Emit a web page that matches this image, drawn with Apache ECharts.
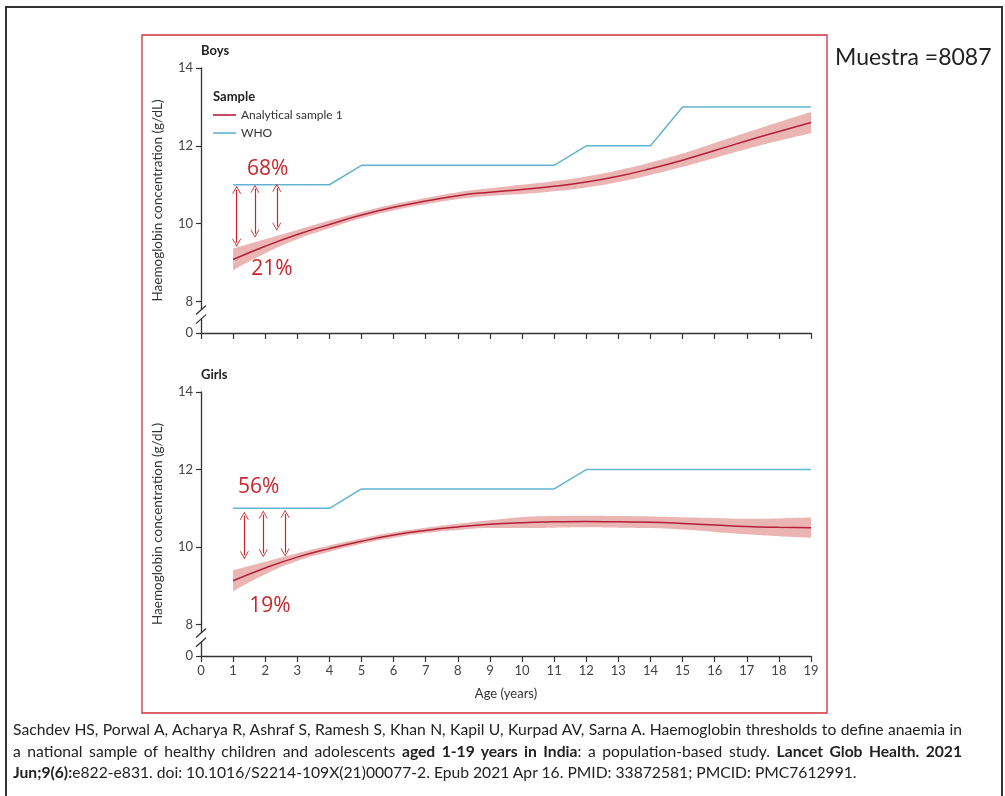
<!DOCTYPE html>
<html>
<head>
<meta charset="utf-8">
<script src="https://cdn.jsdelivr.net/npm/echarts@6/dist/echarts.min.js"></script>
<style>
  html, body { margin: 0; padding: 0; background: #fff; }
  #chart { position: absolute; left: 0; top: 0; width: 1005px; height: 796px; }
  #cite { position: absolute; left: 13px; top: 719px; width: 949px; font-family: Lato, "Open Sans", sans-serif; font-size: 14px; line-height: 21.5px; color: #222; }
  #cite .j { display: block; text-align: justify; text-align-last: justify; white-space: nowrap; }
  #cite .l { display: block; white-space: nowrap; }
</style>
</head>
<body>
<div id="chart"></div>
<div id="cite">
  <span class="j" id="line1">Sachdev HS, Porwal A, Acharya R, Ashraf S, Ramesh S, Khan N, Kapil U, Kurpad AV, Sarna A. Haemoglobin thresholds to define anaemia in</span>
  <span class="j">a national sample of healthy children and adolescents <b>aged 1-19 years in India</b>: a population-based study. <b>Lancet Glob Health. 2021</b></span>
  <span class="l"><b>Jun;9(6):</b>e822-e831. doi: 10.1016/S2214-109X(21)00077-2. Epub 2021 Apr 16. PMID: 33872581; PMCID: PMC7612991.</span>
</div>
<script>
// ---------------- data ----------------
const ages = [1, 2, 3, 4, 5, 6, 7, 8, 9, 10, 11, 12, 13, 14, 15, 16, 17, 18, 19];

const boysMean  = [9.08, 9.42, 9.72, 9.98, 10.22, 10.42, 10.58, 10.72, 10.81, 10.88, 10.96, 11.07, 11.22, 11.41, 11.63, 11.88, 12.13, 12.37, 12.60];
const boysLower = [8.80, 9.24, 9.60, 9.88, 10.14, 10.34, 10.50, 10.63, 10.71, 10.76, 10.83, 10.93, 11.07, 11.25, 11.46, 11.69, 11.92, 12.13, 12.33];
const boysUpper = [9.36, 9.60, 9.84, 10.08, 10.30, 10.50, 10.66, 10.81, 10.91, 11.00, 11.09, 11.21, 11.37, 11.57, 11.80, 12.07, 12.34, 12.61, 12.87];
const boysWHO   = [11, 11, 11, 11, 11.5, 11.5, 11.5, 11.5, 11.5, 11.5, 11.5, 12, 12, 12, 13, 13, 13, 13, 13];

const girlsMean  = [9.13, 9.46, 9.74, 9.96, 10.15, 10.31, 10.43, 10.52, 10.59, 10.63, 10.65, 10.66, 10.65, 10.64, 10.61, 10.57, 10.53, 10.51, 10.50];
const girlsLower = [8.86, 9.30, 9.64, 9.88, 10.08, 10.24, 10.36, 10.44, 10.49, 10.49, 10.50, 10.51, 10.50, 10.49, 10.45, 10.39, 10.33, 10.28, 10.24];
const girlsUpper = [9.40, 9.62, 9.84, 10.04, 10.22, 10.38, 10.50, 10.60, 10.69, 10.77, 10.80, 10.81, 10.80, 10.79, 10.77, 10.75, 10.73, 10.74, 10.76];
const girlsWHO   = [11, 11, 11, 11, 11.5, 11.5, 11.5, 11.5, 11.5, 11.5, 11.5, 12, 12, 12, 12, 12, 12, 12, 12];

const yTickValues = [8, 10, 12, 14];
const yBreakLabel = '0';
const xTickLabels = ['0','1','2','3','4','5','6','7','8','9','10','11','12','13','14','15','16','17','18','19'];

const boysPercentLabels  = ['68%', '21%'];
const girlsPercentLabels = ['56%', '19%'];

// ---------------- styling / layout ----------------
const Y_MIN = 7.19;   // axis bottom, shown as "0" after the break
const FONT = 'Lato, "Open Sans", sans-serif';
const RED = '#b3203a';
const BLUE = '#62b4d2';
const BAND = '#eab5b2';
const ANN = '#c8262c';
const AXIS = '#333';
const chevron = 'path://M0,10 L5,0 L10,10 L9,10 L5,2 L1,10 Z';

const pairs = (xs, ys) => xs.map((x, i) => [x, ys[i]]);

// annotation placements (data coords)
const boysTextPos  = [[2.08, 11.41], [2.21, 8.84]];
const girlsTextPos = [[1.80, 11.55], [2.15, 8.49]];
const boysArrows  = [[1.11, 10.87, 9.51], [1.68, 10.90, 9.74], [2.36, 10.92, 9.92]];
const girlsArrows = [[1.35, 10.81, 9.79], [1.94, 10.84, 9.84], [2.62, 10.86, 9.86]];

function panelSeries(idx, mean, lower, upper, who, textLabels, textPos, arrows) {
  return [
    {
      name: 'bandUpper' + idx, type: 'line', xAxisIndex: idx, yAxisIndex: idx,
      data: pairs(ages, upper), smooth: true, symbol: 'none',
      lineStyle: { opacity: 0 }, areaStyle: { color: BAND, opacity: 1, origin: 'start' }, silent: true, z: 1
    },
    {
      name: 'bandLower' + idx, type: 'line', xAxisIndex: idx, yAxisIndex: idx,
      data: pairs(ages, lower), smooth: true, symbol: 'none',
      lineStyle: { opacity: 0 }, areaStyle: { color: '#ffffff', opacity: 1, origin: 'start' }, silent: true, z: 2
    },
    {
      name: 'WHO', type: 'line', xAxisIndex: idx, yAxisIndex: idx,
      data: pairs(ages, who), symbol: 'none', smooth: false,
      lineStyle: { color: BLUE, width: 1.5 }, itemStyle: { color: BLUE }, z: 3
    },
    {
      name: 'Analytical sample 1', type: 'line', xAxisIndex: idx, yAxisIndex: idx,
      data: pairs(ages, mean), symbol: 'none', smooth: true,
      lineStyle: { color: RED, width: 1.5 }, itemStyle: { color: RED }, z: 4,
      markPoint: {
        silent: true, symbol: 'circle', symbolSize: 0,
        label: { show: true, position: 'inside', formatter: '{b}', color: ANN, fontSize: 21, fontFamily: '"Open Sans", sans-serif' },
        data: textLabels.map((t, i) => ({ name: t, coord: textPos[i] }))
      },
      markLine: {
        silent: true, symbol: [chevron, chevron], symbolSize: [9, 8],
        label: { show: false },
        lineStyle: { color: ANN, width: 1.2, type: 'solid' },
        emphasis: { disabled: true },
        data: arrows.map(a => [{ coord: [a[0], a[1]] }, { coord: [a[0], a[2]] }])
      }
    }
  ];
}

function xAxis(idx, showLabels) {
  return {
    type: 'value', gridIndex: idx, min: 0, max: 19, interval: 1, z: 10,
    name: showLabels ? 'Age (years)' : '', nameLocation: 'middle', nameGap: 31,
    nameTextStyle: { fontFamily: FONT, fontSize: 13, color: '#333' },
    axisLine: { show: true, onZero: false, lineStyle: { color: AXIS, width: 1.3 } },
    axisTick: { show: true, inside: false, length: 6, lineStyle: { color: AXIS, width: 1.2 } },
    axisLabel: { show: showLabels, fontFamily: FONT, fontSize: 13, color: '#444', margin: 8,
                 formatter: v => xTickLabels[v] },
    splitLine: { show: false }
  };
}

function yAxis(idx) {
  const custom = [Y_MIN].concat(yTickValues);
  return {
    type: 'value', gridIndex: idx, min: Y_MIN, max: 14, z: 10,
    name: 'Haemoglobin concentration (g/dL)', nameLocation: 'middle', nameGap: 36,
    nameTextStyle: { fontFamily: FONT, fontSize: 13.5, color: '#333' },
    axisLine: { show: true, lineStyle: { color: AXIS, width: 1.3 } },
    axisTick: { show: true, length: 5, customValues: custom, lineStyle: { color: AXIS, width: 1.2 } },
    axisLabel: { show: true, customValues: custom, fontFamily: FONT, fontSize: 13, color: '#444', margin: 8,
                 formatter: v => (v < 7.5 ? yBreakLabel : String(v)) },
    splitLine: { show: false }
  };
}

const chart = echarts.init(document.getElementById('chart'), null, { renderer: 'canvas' });

const option = {
  animation: false,
  backgroundColor: '#fff',
  grid: [
    { left: 201, width: 610, top: 68, height: 265, outerBoundsMode: 'none', containLabel: false },
    { left: 201, width: 610, top: 392, height: 264, outerBoundsMode: 'none', containLabel: false }
  ],
  xAxis: [xAxis(0, false), xAxis(1, true)],
  yAxis: [yAxis(0), yAxis(1)],
  legend: {
    data: ['Analytical sample 1', 'WHO'],
    orient: 'vertical', left: 213, top: 109, padding: 0,
    icon: 'rect', itemWidth: 23, itemHeight: 1.6, itemGap: 6,
    selectedMode: false,
    textStyle: { fontFamily: FONT, fontSize: 12, color: '#333' }
  },
  series: [].concat(
    panelSeries(0, boysMean, boysLower, boysUpper, boysWHO, boysPercentLabels, boysTextPos, boysArrows),
    panelSeries(1, girlsMean, girlsLower, girlsUpper, girlsWHO, girlsPercentLabels, girlsTextPos, girlsArrows)
  )
};
chart.setOption(option);

// decorations: frames, panel titles, legend heading, axis breaks
const g = [];
g.push({ type: 'rect', shape: { x: 6, y: 7, width: 996, height: 800 }, style: { fill: 'none', stroke: '#333', lineWidth: 2 }, silent: true, z: 0 });
g.push({ type: 'rect', shape: { x: 142, y: 35, width: 685, height: 678 }, style: { fill: 'none', stroke: '#d0313a', lineWidth: 1.3 }, silent: true, z: 0 });
g.push({ type: 'text', x: 835, y: 58, style: { text: 'Muestra =8087', font: '23px Lato, sans-serif', fill: '#222', textVerticalAlign: 'middle' }, silent: true });
g.push({ type: 'text', x: 201, y: 51, style: { text: 'Boys', font: 'bold 13px Lato, sans-serif', fill: '#222', textVerticalAlign: 'middle' }, silent: true });
g.push({ type: 'text', x: 201, y: 375, style: { text: 'Girls', font: 'bold 13px Lato, sans-serif', fill: '#222', textVerticalAlign: 'middle' }, silent: true });
g.push({ type: 'text', x: 213, y: 97, style: { text: 'Sample', font: 'bold 13px Lato, sans-serif', fill: '#222', textVerticalAlign: 'middle' }, silent: true });

const lowers = [boysLower, girlsLower];
[0, 1].forEach(idx => {
  const x = chart.convertToPixel({ xAxisIndex: idx }, 0);
  const p8 = chart.convertToPixel({ yAxisIndex: idx }, 8);
  const p0 = chart.convertToPixel({ yAxisIndex: idx }, Y_MIN);
  const c1 = p8 + (p0 - p8) * 0.27;
  const c2 = p8 + (p0 - p8) * 0.56;
  g.push({ type: 'rect', shape: { x: x - 2.5, y: c1, width: 5, height: c2 - c1 }, style: { fill: '#fff' }, silent: true, z: 20 });
  [c1, c2].forEach(c => {
    g.push({ type: 'line', shape: { x1: x - 5, y1: c + 4.5, x2: x + 5, y2: c - 4.5 }, style: { stroke: '#333', lineWidth: 1.3 }, silent: true, z: 21 });
  });
  // hide anti-aliasing seam at the band's vertical end edges
  [0, ages.length - 1].forEach(k => {
    const px = chart.convertToPixel({ xAxisIndex: idx }, ages[k]);
    const py = chart.convertToPixel({ yAxisIndex: idx }, lowers[idx][k]);
    g.push({ type: 'line', shape: { x1: px, y1: py + 1, x2: px, y2: p0 - 1.5 }, style: { stroke: '#fff', lineWidth: 2 }, silent: true, z: 1 });
  });
});
chart.setOption({ graphic: g });

// fit citation font so the first line fills the text block naturally
(function fitCitation() {
  const cite = document.getElementById('cite');
  const l1 = document.getElementById('line1');
  l1.style.display = 'inline-block';
  const w = l1.getBoundingClientRect().width;
  l1.style.display = '';
  if (w > 0) {
    const size = Math.min(16, 14 * 940 / w);
    cite.style.fontSize = size.toFixed(2) + 'px';
  }
})();
</script>
</body>
</html>
